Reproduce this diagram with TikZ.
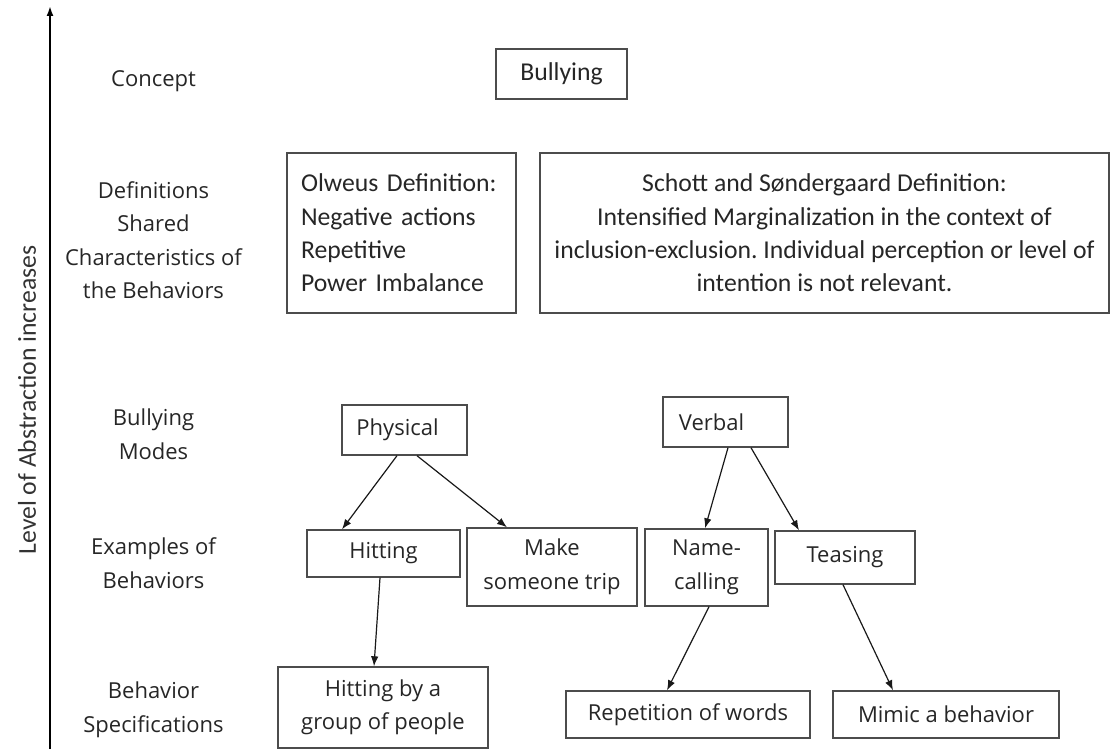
\documentclass[tikz,border=0pt]{standalone}
\usepackage{fontspec}
\setmainfont{Open Sans}
\newfontfamily\calfont{Carlito}
\usetikzlibrary{arrows.meta,calc}
\frenchspacing
\begin{document}
\begin{tikzpicture}[x=1pt,y=-1pt,
  box/.style={draw=black!70,line width=1.4pt,rectangle,inner sep=0pt,align=center},
  lvl/.style={font=\fontsize{22}{33.5}\selectfont,text=black!85,align=center,inner sep=0pt},
  bfont/.style={font=\fontsize{22}{33.5}\selectfont,text=black!85},
  cfont/.style={font=\calfont\fontsize{25.7}{33.3}\selectfont,text=black!85},
  link/.style={-{Latex[length=10pt,width=7.5pt]},line width=1.2pt,draw=black!90}
]
\useasboundingbox (0,0) rectangle (1110,749);

% vertical axis of abstraction
\coordinate (axbot) at (50,749);
\coordinate (axtop) at (50,6);
\draw[line width=1.8pt,-{Latex[length=10pt,width=7pt]}] (axbot) -- (axtop);
\node[rotate=90,font=\calfont\fontsize{25.7}{30}\selectfont,text=black!80,inner sep=0pt] (axlbl) at (27,400) {Level of Abstraction increases};

% level labels
\node[lvl] (lconcept) at (153.5,81) {Concept};
\node[lvl] (ldef) at (153.5,240) {Definitions\\Shared\\Characteristics of\\the Behaviors};
\node[lvl] (lmodes) at (153.5,434) {Bullying\\Modes};
\node[lvl] (lex) at (153.5,563) {Examples of\\Behaviors};
\node[lvl] (lspec) at (153.5,710) {Behavior\\Specifications};

% concept and definitions
\node[box,cfont,minimum width=131pt,minimum height=50pt] (bully) at (561.5,74) {Bullying};
\node[box,cfont,minimum width=229pt,minimum height=160pt,text width=201pt,align=left] (olw) at (401.5,233)
  {Olweus Definition:\\Negative actions\\Repetitive\\Power Imbalance};
\node[box,cfont,minimum width=569pt,minimum height=160pt] (sch) at (824.5,233)
  {Schott and Søndergaard Definition:\\Intensified Marginalization in the context of\\inclusion-exclusion. Individual perception or level of\\intention is not relevant.};

% bullying modes
\node[box,bfont,minimum width=125pt,minimum height=50pt] (phys) at (404.5,430) {\hspace*{-14pt}Physical};
\node[box,bfont,minimum width=125pt,minimum height=50pt] (verb) at (725.5,422) {\hspace*{-28pt}Verbal};

% examples of behaviors
\node[box,bfont,minimum width=153pt,minimum height=47pt] (hit) at (383.5,553.5) {Hitting};
\node[box,bfont,minimum width=170pt,minimum height=78pt] (trip) at (552,567) {Make\\someone trip};
\node[box,bfont,minimum width=123pt,minimum height=77pt] (name) at (706.5,567.5) {Name-\\calling};
\node[box,bfont,minimum width=140pt,minimum height=53pt] (tease) at (845,557.5) {Teasing};

% behavior specifications
\node[box,bfont,minimum width=210pt,minimum height=81pt] (group) at (383,707.5) {Hitting by a\\group of people};
\node[box,bfont,minimum width=244pt,minimum height=47pt] (rep) at (688,714.5) {Repetition of words};
\node[box,bfont,minimum width=226pt,minimum height=47pt] (mimic) at (946,714.5) {Mimic a behavior};

% connectors
\draw[link] ($(phys.south)+(-7.5,0)$) -- ($(hit.north)+(-41.5,0)$);
\draw[link] ($(phys.south)+(12.5,0)$) -- ($(trip.north)+(-45,0)$);
\draw[link] ($(verb.south)+(2.5,0)$) -- ($(name.north)+(-1.5,0)$);
\draw[link] ($(verb.south)+(25.5,0)$) -- ($(tease.north)+(-46,0)$);
\draw[link] ($(hit.south)+(-3.5,0)$) -- ($(group.north)+(-9,0)$);
\draw[link] ($(name.south)+(2.5,0)$) -- ($(rep.north)+(-21,0)$);
\draw[link] ($(tease.south)+(-2,0)$) -- ($(mimic.north)+(-53,0)$);
\end{tikzpicture}
\end{document}
